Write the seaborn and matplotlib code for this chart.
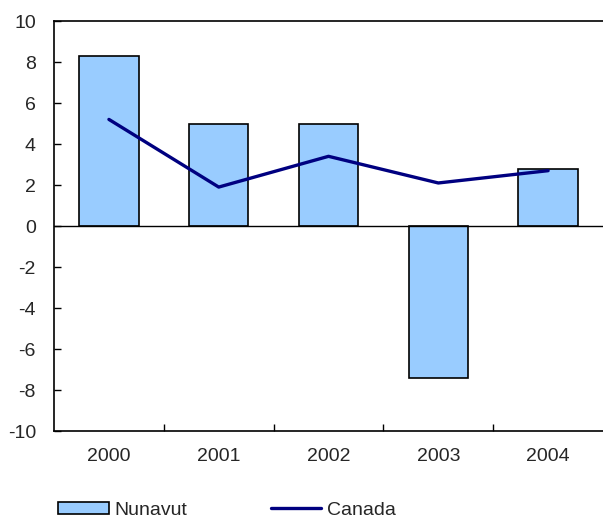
import numpy as np
import pandas as pd
import matplotlib
matplotlib.use("Agg")
import matplotlib.pyplot as plt
import matplotlib.patches as mpatches
import matplotlib.lines as mlines
import seaborn as sns

# values
years = ["2000", "2001", "2002", "2003", "2004"]
nunavut = [8.3, 5.0, 5.0, -7.4, 2.8]
canada = [5.2, 1.9, 3.4, 2.1, 2.7]

sns.set_style("white")
plt.rcParams['font.family'] = ['Liberation Sans', 'DejaVu Sans']
plt.rcParams['font.size'] = 14
plt.rcParams['axes.unicode_minus'] = False

bar_color = '#99CCFF'
line_color = '#000080'

fig = plt.figure(figsize=(6.03, 5.19), dpi=100)
ax = fig.add_axes([0.0896, 0.1695, 0.9104, 0.79])

df = pd.DataFrame({'year': years, 'Nunavut': nunavut, 'Canada': canada})
sns.barplot(data=df, x='year', y='Nunavut', ax=ax, color=bar_color,
            saturation=1, edgecolor='black', linewidth=1.2, width=0.54)
sns.lineplot(x=np.arange(len(years)), y=df['Canada'], ax=ax,
             color=line_color, linewidth=2.4)
ax.axhline(0, color='black', linewidth=1.0, zorder=1)

ax.set_xlim(-0.5, len(years) - 0.5)
ax.set_ylim(-10, 10)
ax.set_yticks(range(-10, 11, 2))
ax.set_xlabel('')
ax.set_ylabel('')

# tick marks between categories, labels at centres
ax.set_xticks(np.arange(0.5, len(years) - 0.5, 1.0))
ax.set_xticklabels([])
ax.set_xticks(np.arange(len(years)), minor=True)
ax.set_xticklabels(years, minor=True)
ax.tick_params(axis='x', which='major', bottom=True, direction='in', length=5, width=1, color='black')
ax.tick_params(axis='x', which='minor', bottom=True, length=0, pad=12)
ax.tick_params(axis='y', left=True, direction='in', length=5, width=1, color='black', pad=13)

for s in ax.spines.values():
    s.set_color('black')
    s.set_linewidth(1.2)
# the right edge of the frame falls outside the picture
ax.spines['right'].set_visible(False)

handles = [mpatches.Patch(facecolor=bar_color, edgecolor='black', linewidth=1.2, label='Nunavut'),
           mlines.Line2D([], [], color=line_color, linewidth=2.4, label='Canada')]
fig.legend(handles=handles, loc='center left', bbox_to_anchor=(0.0962, 0.0173), ncol=2,
           frameon=False, borderpad=0, borderaxespad=0, handlelength=2.6,
           handleheight=0.55, handletextpad=0.3, columnspacing=4.3)

fig.savefig('out.png', dpi=100)
